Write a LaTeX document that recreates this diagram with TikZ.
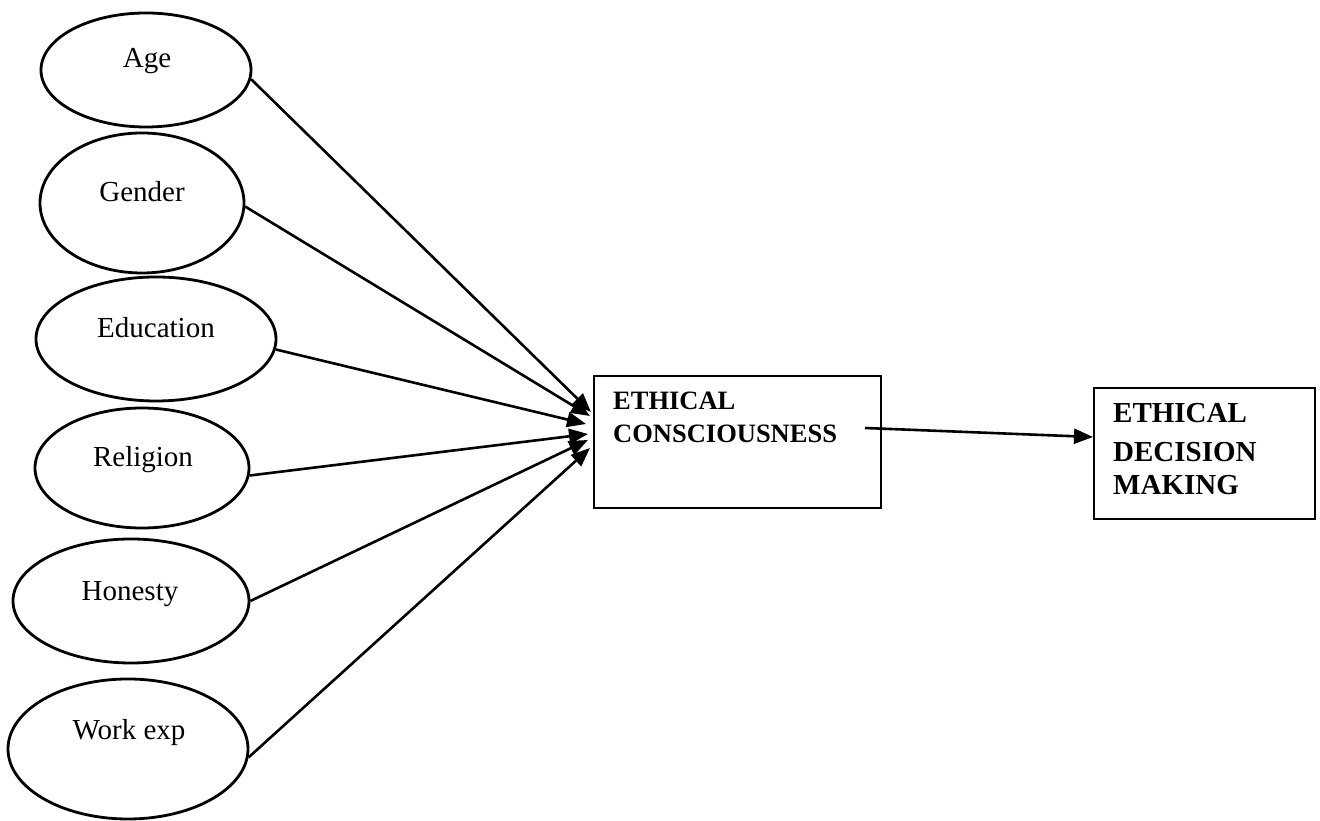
\documentclass[tikz,border=0pt]{standalone}
\usepackage{fontspec}
\setmainfont{Liberation Serif}
\usetikzlibrary{shapes.geometric,arrows.meta}
\begin{document}
\begin{tikzpicture}[x=1pt,y=1pt,
  oval/.style={draw,ellipse,line width=2.8pt,inner sep=0pt},
  ovaltext/.style={anchor=base,inner sep=0pt,font=\fontsize{29}{34}\selectfont},
  boxframe/.style={draw,rectangle,line width=1.8pt,inner sep=0pt,anchor=north west},
  boxtext/.style={anchor=base west,inner sep=0pt},
  arr/.style={line width=2.6pt,-{Triangle[length=19pt,width=15pt]}}]
\useasboundingbox (0,0) rectangle (1320,821);
% ellipses
\node[oval,minimum width=210pt,minimum height=114pt] (age) at (146,751) {};
\node[oval,minimum width=204pt,minimum height=140pt] (gen) at (142,618) {};
\node[oval,minimum width=240pt,minimum height=124pt] (edu) at (156,482) {};
\node[oval,minimum width=214pt,minimum height=120pt] (rel) at (142,353) {};
\node[oval,minimum width=236pt,minimum height=124pt] (hon) at (131,220) {};
\node[oval,minimum width=240pt,minimum height=140pt] (wex) at (128,72) {};
\node[ovaltext] (agel) at (147,753) {Age};
\node[ovaltext] (genl) at (142,619) {Gender};
\node[ovaltext] (edul) at (156,483) {Education};
\node[ovaltext] (rell) at (143,354) {Religion};
\node[ovaltext] (honl) at (130,220) {Honesty};
\node[ovaltext] (wexl) at (129,81) {Work exp};
% boxes
\node[boxframe,minimum width=287pt,minimum height=132pt] (ec) at (593,446) {};
\node[boxtext,font=\fontsize{26.5}{30}\bfseries] (ec1) at (613,411) {ETHICAL};
\node[boxtext,font=\fontsize{26.5}{30}\bfseries] (ec2) at (613,378) {CONSCIOUSNESS};
\node[boxframe,minimum width=221pt,minimum height=131pt] (edm) at (1093,434) {};
\node[boxtext,font=\fontsize{29}{34}\bfseries] (edm1) at (1113,398) {ETHICAL};
\node[boxtext,font=\fontsize{29}{34}\bfseries] (edm2) at (1113,359) {DECISION};
\node[boxtext,font=\fontsize{29}{34}\bfseries] (edm3) at (1113,326) {MAKING};
% arrow tips
\coordinate (t1) at (591,409);
\coordinate (t2) at (590,405);
\coordinate (t3) at (586,397);
\coordinate (t4) at (588,387);
\coordinate (t5) at (588,381);
\coordinate (t6) at (590,373);
\coordinate (m1) at (865,393);
\coordinate (m2) at (1093,384);
\draw[arr] (age.-5.7) -- (t1);
\draw[arr] (gen.-2.2) -- (t2);
\draw[arr] (edu.-5.1) -- (t3);
\draw[arr] (rel.-4.2) -- (t4);
\draw[arr] (hon.0) -- (t5);
\draw[arr] (wex.-4.2) -- (t6);
\draw[arr] (m1) -- (m2);
\end{tikzpicture}
\end{document}
